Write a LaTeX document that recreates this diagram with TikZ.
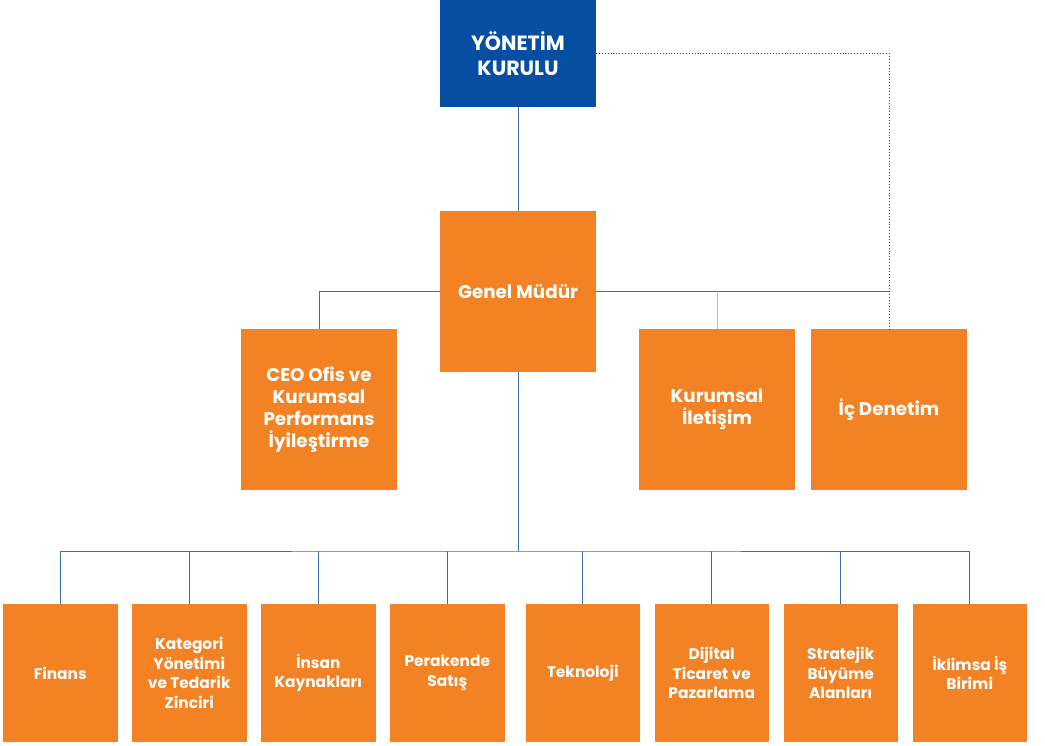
\documentclass[tikz,border=0pt]{standalone}
\usepackage{fontspec}
\setmainfont{Poppins}
\usetikzlibrary{positioning}

\definecolor{boardblue}{HTML}{054EA2}
\definecolor{unitorange}{HTML}{F28223}
\definecolor{linkblue}{HTML}{3A6DB5}
\definecolor{linkorange}{HTML}{F6B27C}

\tikzset{
	box/.style={fill=unitorange, text=white, font=\bfseries, align=center,
		inner sep=0pt, outer sep=0pt},
	topbox/.style={box, minimum width=156pt, minimum height=161pt,
		font=\bfseries\fontsize{18.3}{22}\selectfont},
	unitbox/.style={box, minimum width=114.5pt, minimum height=138pt,
		font=\bfseries\fontsize{15.4}{19.5}\selectfont},
	link/.style={draw=linkblue, line width=0.9pt},
	dotlink/.style={draw=boardblue, line width=0.9pt, dash pattern=on 0.9pt off 2pt},
}

\begin{document}
\begin{tikzpicture}[x=1pt,y=-1pt]
	\useasboundingbox (0,0) rectangle (1045,746);
	\node (yk)[box, fill=boardblue, minimum width=156pt, minimum height=107pt,
		font=\bfseries\fontsize{20.6}{25}\selectfont] at (518,53.5) {YÖNETİM\\KURULU};
	\node (gm)[topbox, below=104pt of yk] {Genel Müdür};
	\node (ceo)[topbox] at (319,409.5) {CEO Ofis ve\\Kurumsal\\Performans\\İyileştirme};
	\node (kur)[topbox] at (717,409.5) {Kurumsal\\İletişim};
	\node (icd)[topbox, right=16pt of kur] {İç Denetim};
	\node (fin)[unitbox] at (60.25,673) {Finans};
	\node (kat)[unitbox, right=14.5pt of fin] {Kategori\\Yönetimi\\ve Tedarik\\Zinciri};
	\node (ins)[unitbox, right=14.5pt of kat] {İnsan\\Kaynakları};
	\node (per)[unitbox, right=14.5pt of ins] {Perakende\\Satış};
	\node (tek)[unitbox, right=21pt of per] {Teknoloji};
	\node (dij)[unitbox, right=14.5pt of tek] {Dijital\\Ticaret ve\\Pazarlama};
	\node (str)[unitbox, right=14.5pt of dij] {Stratejik\\Büyüme\\Alanları};
	\node (ikl)[unitbox, right=14.5pt of str] {İklimsa İş\\Birimi};
	\coordinate (gmr) at (gm -| icd);
	\coordinate (kurt) at (gm -| kur);
	\coordinate[below=179pt of gm.south] (bus);
	\draw[link] (yk) -- (gm);
	\draw[dotlink] (yk) -| (icd);
	\draw[link] (ceo) |- (gm);
	\draw[link] (gm) -- (gmr);
	\draw[draw=linkorange, line width=0.9pt] (kurt) -- (kur);
	\draw[link] (gm) -- (bus);
	\draw[link] (fin) |- (bus) -| (ikl);
	\foreach \u in {kat,ins,per,tek,dij,str}
		\draw[link] (bus -| \u) -- (\u);
\end{tikzpicture}
\end{document}
